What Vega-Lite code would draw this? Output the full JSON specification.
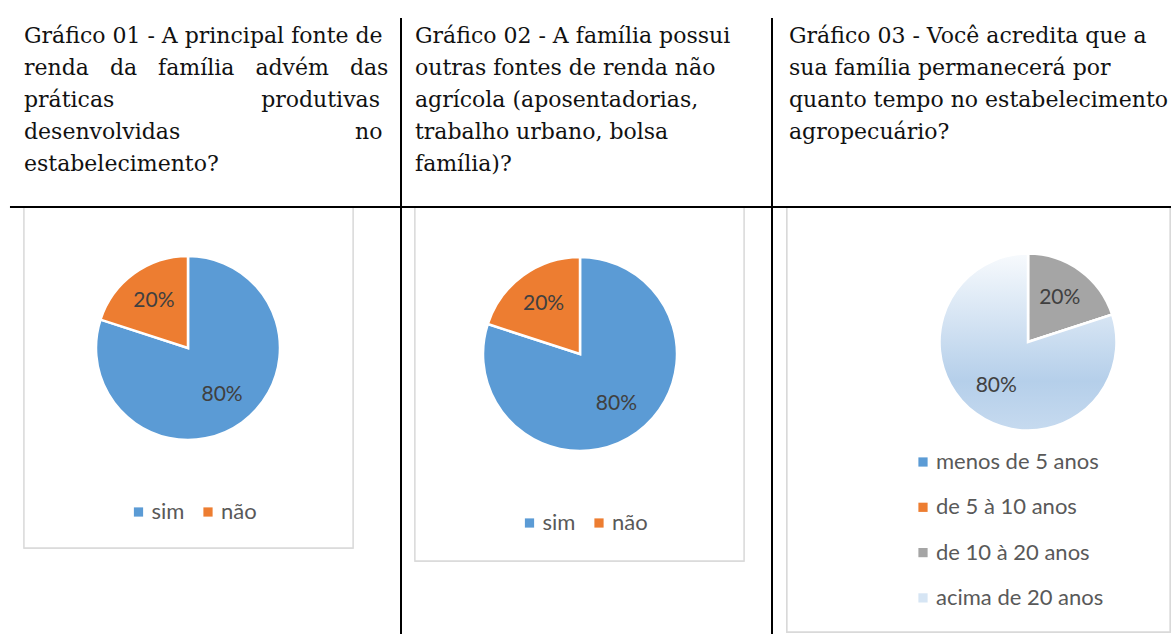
{
  "$schema": "https://vega.github.io/schema/vega-lite/v6.json",
  "background": "white",
  "padding": {"top": 17, "left": 0, "right": 0, "bottom": 0},
  "spacing": 0,
  "bounds": "flush",
  "config": {
    "view": {"stroke": null},
    "title": {"font": "DejaVu Serif", "fontSize": 22, "fontWeight": "normal", "color": "#111111", "anchor": "start", "frame": "group", "lineHeight": 32},
    "legend": {"labelLimit": 400}
  },
  "resolve": {
    "scale": {"x": "independent", "y": "independent", "theta": "independent", "color": "independent", "opacity": "independent"},
    "legend": {"color": "independent"}
  },
  "hconcat": [
    {
      "width": 401,
      "height": 427,
      "title": {
        "text": [
          "Gráfico 01 - A principal fonte de",
          "renda\u00a0\u00a0\u00a0da\u00a0\u00a0\u00a0família\u00a0\u00a0\u00a0advém\u00a0\u00a0\u00a0das",
          "práticas\u00a0\u00a0\u00a0\u00a0\u00a0\u00a0\u00a0\u00a0\u00a0\u00a0\u00a0\u00a0\u00a0\u00a0\u00a0\u00a0\u00a0\u00a0\u00a0\u00a0\u00a0produtivas",
          "desenvolvidas\u00a0\u00a0\u00a0\u00a0\u00a0\u00a0\u00a0\u00a0\u00a0\u00a0\u00a0\u00a0\u00a0\u00a0\u00a0\u00a0\u00a0\u00a0\u00a0\u00a0\u00a0\u00a0\u00a0\u00a0\u00a0no",
          "estabelecimento?"
        ],
        "dx": 24,
        "offset": -159
      },
      "data": {"values": [
        {"resp": "sim", "v": 0.8, "ord": 1},
        {"resp": "não", "v": 0.2, "ord": 2}
      ]},
      "layer": [
        {
          "mark": {"type": "rect", "fill": "white", "stroke": "#d9d9d9", "strokeWidth": 1.3},
          "encoding": {
            "x": {"datum": 0.0599, "type": "quantitative", "scale": {"domain": [0, 1], "nice": false, "zero": false}, "axis": null},
            "x2": {"datum": 0.8803},
            "y": {"datum": 0.001, "type": "quantitative", "scale": {"domain": [0, 1], "nice": false, "zero": false, "reverse": true}, "axis": null},
            "y2": {"datum": 0.7986}
          }
        },
        {
          "mark": {"type": "rule", "color": "black", "strokeWidth": 2},
          "encoding": {
            "x": {"datum": 0.0249, "type": "quantitative"},
            "x2": {"datum": 1},
            "y": {"datum": 0, "type": "quantitative"}
          }
        },
        {
          "mark": {"type": "rule", "color": "black", "strokeWidth": 2},
          "encoding": {
            "x": {"datum": 1, "type": "quantitative"},
            "y": {"datum": -0.4426, "type": "quantitative"},
            "y2": {"datum": 1}
          }
        },
        {
          "mark": {"type": "arc", "outerRadius": 92, "stroke": "white", "strokeWidth": 2.5},
          "encoding": {
            "x": {"datum": 0.4688, "type": "quantitative"},
            "y": {"datum": 0.3302, "type": "quantitative"},
            "theta": {"field": "v", "type": "quantitative", "stack": true},
            "order": {"field": "ord", "type": "quantitative"},
            "color": {
              "field": "resp", "type": "nominal",
              "scale": {"domain": ["sim", "não"], "range": ["#5b9bd5", "#ed7d31"]},
              "legend": {"orient": "none", "legendX": 127.5, "legendY": 294, "direction": "horizontal", "title": null, "symbolType": "square", "symbolSize": 85, "symbolStrokeWidth": 0, "labelFont": "Lato", "labelFontSize": 22, "labelColor": "#595959", "labelOffset": 2, "columnPadding": 12.5, "padding": 0}
            }
          }
        },
        {
          "mark": {"type": "text", "radius": 58, "font": "Lato", "fontSize": 21, "color": "#404040"},
          "encoding": {
            "x": {"datum": 0.4688, "type": "quantitative"},
            "y": {"datum": 0.3302, "type": "quantitative"},
            "theta": {"field": "v", "type": "quantitative", "stack": true},
            "order": {"field": "ord", "type": "quantitative"},
            "text": {"field": "v", "type": "quantitative", "format": ".0%"}
          }
        }
      ]
    },
    {
      "width": 371,
      "height": 427,
      "title": {
        "text": [
          "Gráfico 02 - A família possui",
          "outras fontes de renda não",
          "agrícola (aposentadorias,",
          "trabalho urbano, bolsa",
          "família)?"
        ],
        "dx": 14,
        "offset": -159
      },
      "data": {"values": [
        {"resp": "sim", "v": 0.8, "ord": 1},
        {"resp": "não", "v": 0.2, "ord": 2}
      ]},
      "layer": [
        {
          "mark": {"type": "rect", "fill": "white", "stroke": "#d9d9d9", "strokeWidth": 1.3},
          "encoding": {
            "x": {"datum": 0.0377, "type": "quantitative", "scale": {"domain": [0, 1], "nice": false, "zero": false}, "axis": null},
            "x2": {"datum": 0.9245},
            "y": {"datum": 0.001, "type": "quantitative", "scale": {"domain": [0, 1], "nice": false, "zero": false, "reverse": true}, "axis": null},
            "y2": {"datum": 0.829}
          }
        },
        {
          "mark": {"type": "rule", "color": "black", "strokeWidth": 2},
          "encoding": {
            "x": {"datum": 0, "type": "quantitative"},
            "x2": {"datum": 1},
            "y": {"datum": 0, "type": "quantitative"}
          }
        },
        {
          "mark": {"type": "rule", "color": "black", "strokeWidth": 2},
          "encoding": {
            "x": {"datum": 1, "type": "quantitative"},
            "y": {"datum": -0.4426, "type": "quantitative"},
            "y2": {"datum": 1}
          }
        },
        {
          "mark": {"type": "arc", "outerRadius": 97, "stroke": "white", "strokeWidth": 2.5},
          "encoding": {
            "x": {"datum": 0.4825, "type": "quantitative"},
            "y": {"datum": 0.3443, "type": "quantitative"},
            "theta": {"field": "v", "type": "quantitative", "stack": true},
            "order": {"field": "ord", "type": "quantitative"},
            "color": {
              "field": "resp", "type": "nominal",
              "scale": {"domain": ["sim", "não"], "range": ["#5b9bd5", "#ed7d31"]},
              "legend": {"orient": "none", "legendX": 117.5, "legendY": 305, "direction": "horizontal", "title": null, "symbolType": "square", "symbolSize": 85, "symbolStrokeWidth": 0, "labelFont": "Lato", "labelFontSize": 22, "labelColor": "#595959", "labelOffset": 2, "columnPadding": 12.5, "padding": 0}
            }
          }
        },
        {
          "mark": {"type": "text", "radius": 62, "font": "Lato", "fontSize": 21, "color": "#404040"},
          "encoding": {
            "x": {"datum": 0.4825, "type": "quantitative"},
            "y": {"datum": 0.3443, "type": "quantitative"},
            "theta": {"field": "v", "type": "quantitative", "stack": true},
            "order": {"field": "ord", "type": "quantitative"},
            "text": {"field": "v", "type": "quantitative", "format": ".0%"}
          }
        }
      ]
    },
    {
      "width": 399,
      "height": 427,
      "title": {
        "text": [
          "Gráfico 03 - Você acredita que a",
          "sua família permanecerá por",
          "quanto tempo no estabelecimento",
          "agropecuário?"
        ],
        "dx": 17,
        "offset": 62
      },
      "data": {"values": [
        {"cat": "menos de 5 anos", "v": 0, "ord": 1},
        {"cat": "\u2005de 5 à 10 anos", "v": 0, "ord": 2},
        {"cat": "de 10 à 20 anos", "v": 0.2, "ord": 3},
        {"cat": "acima de 20 anos", "v": 0.8, "ord": 4}
      ]},
      "layer": [
        {
          "mark": {"type": "rect", "fill": "white", "stroke": "#d9d9d9", "strokeWidth": 1.3},
          "encoding": {
            "x": {"datum": 0.0376, "type": "quantitative", "scale": {"domain": [0, 1], "nice": false, "zero": false}, "axis": null},
            "x2": {"datum": 0.9975},
            "y": {"datum": 0.001, "type": "quantitative", "scale": {"domain": [0, 1], "nice": false, "zero": false, "reverse": true}, "axis": null},
            "y2": {"datum": 0.9953}
          }
        },
        {
          "mark": {"type": "rule", "color": "black", "strokeWidth": 2},
          "encoding": {
            "x": {"datum": 0, "type": "quantitative"},
            "x2": {"datum": 1},
            "y": {"datum": 0, "type": "quantitative"}
          }
        },
        {
          "mark": {"type": "arc", "outerRadius": 88.5, "stroke": "white", "strokeWidth": 2.5},
          "encoding": {
            "x": {"datum": 0.6416, "type": "quantitative"},
            "y": {"datum": 0.3162, "type": "quantitative"},
            "theta": {"field": "v", "type": "quantitative", "stack": true},
            "order": {"field": "ord", "type": "quantitative"},
            "color": {
              "field": "cat", "type": "nominal",
              "scale": {"domain": ["menos de 5 anos", "\u2005de 5 à 10 anos", "de 10 à 20 anos", "acima de 20 anos"], "range": ["#5b9bd5", "#ed7d31", "#a5a5a5", "#d6e5f4"]},
              "legend": {"orient": "none", "legendX": 140, "legendY": 244, "direction": "vertical", "title": null, "symbolType": "square", "symbolSize": 85, "symbolStrokeWidth": 0, "labelFont": "Lato", "labelFontSize": 22, "labelColor": "#595959", "labelOffset": 2, "rowPadding": 23.3, "padding": 0}
            }
          }
        },
        {
          "mark": {
            "type": "arc", "outerRadius": 88.5, "stroke": "white", "strokeWidth": 2.5,
            "fill": {"gradient": "linear", "x1": 0, "y1": 0, "x2": 0, "y2": 1, "stops": [
              {"offset": 0, "color": "#f7fafd"},
              {"offset": 0.72, "color": "#b5cfea"},
              {"offset": 1, "color": "#c6daef"}
            ]}
          },
          "encoding": {
            "x": {"datum": 0.6416, "type": "quantitative"},
            "y": {"datum": 0.3162, "type": "quantitative"},
            "theta": {"field": "v", "type": "quantitative", "stack": true},
            "order": {"field": "ord", "type": "quantitative"},
            "opacity": {"condition": {"test": "datum.cat === 'acima de 20 anos'", "value": 1}, "value": 0}
          }
        },
        {
          "transform": [{"filter": "datum.v > 0"}],
          "mark": {"type": "text", "radius": 54, "font": "Lato", "fontSize": 21, "color": "#404040"},
          "encoding": {
            "x": {"datum": 0.6416, "type": "quantitative"},
            "y": {"datum": 0.3162, "type": "quantitative"},
            "theta": {"field": "v", "type": "quantitative", "stack": true},
            "order": {"field": "ord", "type": "quantitative"},
            "text": {"field": "v", "type": "quantitative", "format": ".0%"}
          }
        }
      ]
    }
  ]
}
